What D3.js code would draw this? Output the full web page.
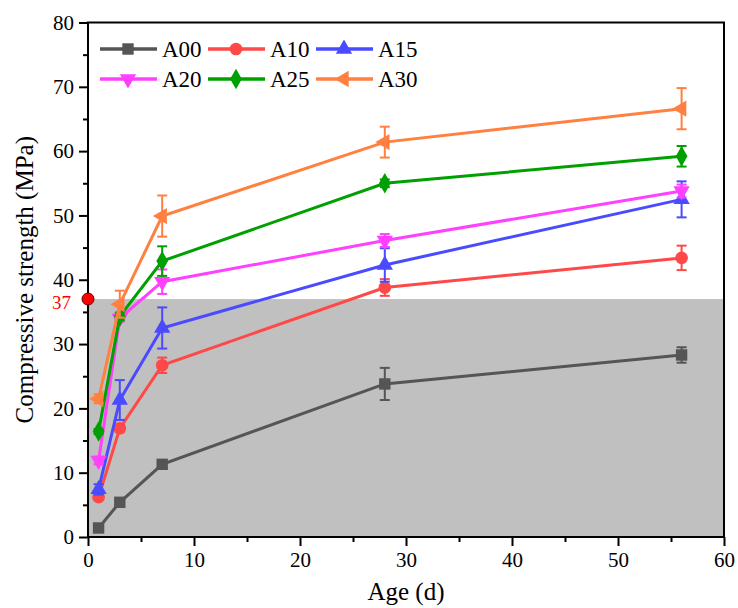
<!DOCTYPE html>
<html>
<head>
<meta charset="utf-8">
<script src="https://cdn.jsdelivr.net/npm/d3@7"></script>
<style>
  body { margin: 0; background: #fff; }
  svg text { font-family: "Liberation Serif", "Times New Roman", Times, serif; }
</style>
</head>
<body>
<svg id="chart" width="738" height="608"></svg>
<script>
// Data
const days = [1, 3, 7, 28, 56];
const names = ["A00", "A10", "A15", "A20", "A25", "A30"];
const A00 = [1.4, 5.4, 11.3, 23.8, 28.3];
const A10 = [6.2, 16.9, 26.7, 38.8, 43.4];
const A15 = [7.4, 21.3, 32.5, 42.3, 52.5];
const A20 = [11.9, 34.0, 39.7, 46.1, 53.8];
const A25 = [16.4, 34.3, 42.9, 55.0, 59.2];
const A30 = [21.5, 36.2, 49.9, 61.4, 66.6];
const A00err = [0.3, 0.4, 0.5, 2.5, 1.2];
const A10err = [0.4, 0.6, 1.2, 1.3, 1.9];
const A15err = [0.8, 3.1, 3.2, 2.6, 2.8];
const A20err = [0.6, 0.5, 1.9, 1.0, 1.0];
const A25err = [0.4, 0.6, 2.3, 0.6, 1.6];
const A30err = [0.7, 2.1, 3.2, 2.4, 3.2];
const threshold = 37;
const xTicks = [0, 10, 20, 30, 40, 50, 60];
const yTicks = [0, 10, 20, 30, 40, 50, 60, 70, 80];

const colors = ["#555555", "#ff4848", "#4a4aff", "#ff40ff", "#00a000", "#ff8040"];
const symbols = [d3.symbolSquare, d3.symbolCircle, d3.symbolTriangle, d3.symbolTriangle, d3.symbolDiamond, d3.symbolTriangle];
const rotations = [0, 0, 0, 180, 0, -90];
const symSize = [130, 125, 115, 115, 120, 115];

const values = [A00, A10, A15, A20, A25, A30];
const errs = [A00err, A10err, A15err, A20err, A25err, A30err];

const serif = "'Liberation Serif', 'Times New Roman', serif";
const svg = d3.select("#chart").attr("font-family", serif);
const mLeft = 88, mRight = 724, mTop = 22.5, mBottom = 537;

const x = d3.scaleLinear().domain([0, 60]).range([mLeft, mRight]);
const y = d3.scaleLinear().domain([0, 80]).range([mBottom, mTop]);

// Shaded area below threshold
svg.append("rect")
    .attr("x", x(0)).attr("y", y(threshold))
    .attr("width", x(60) - x(0)).attr("height", y(0) - y(threshold))
    .attr("fill", "#c0c0c0");

// Axes
const xAxis = svg.append("g").attr("transform", `translate(0,${mBottom})`)
    .call(d3.axisBottom(x).tickValues(xTicks).tickSize(9).tickSizeOuter(0).tickPadding(6));
const xMinor = svg.append("g").attr("transform", `translate(0,${mBottom})`)
    .call(d3.axisBottom(x).tickValues(d3.range(5, 60, 10)).tickSize(5).tickFormat("").tickSizeOuter(0));
const yAxis = svg.append("g").attr("transform", `translate(${mLeft},0)`)
    .call(d3.axisLeft(y).tickValues(yTicks).tickSize(9).tickSizeOuter(0).tickPadding(5));
const yMinor = svg.append("g").attr("transform", `translate(${mLeft},0)`)
    .call(d3.axisLeft(y).tickValues(d3.range(5, 80, 10)).tickSize(5).tickFormat("").tickSizeOuter(0));

[xAxis, xMinor, yAxis, yMinor].forEach(g => {
    g.attr("font-family", serif).attr("font-size", 21);
    g.select(".domain").remove();
    g.selectAll("line").attr("stroke", "#000").attr("stroke-width", 2);
    g.selectAll("text").attr("fill", "#000");
});

// Frame
svg.append("rect")
    .attr("x", mLeft).attr("y", mTop)
    .attr("width", mRight - mLeft).attr("height", mBottom - mTop)
    .attr("fill", "none").attr("stroke", "#000").attr("stroke-width", 2);

// Threshold label and marker
svg.append("text")
    .attr("x", 71).attr("y", y(threshold) + 3).attr("dy", "0.35em")
    .attr("text-anchor", "end").attr("font-size", 19).attr("fill", "#ff0000")
    .text(threshold);
svg.append("circle")
    .attr("cx", x(0)).attr("cy", y(threshold)).attr("r", 6)
    .attr("fill", "#ff0000").attr("stroke", "#600").attr("stroke-width", 1);

// Series
const line = d3.line().x((d, i) => x(days[i])).y(d => y(d));

values.forEach((vals, s) => {
    const g = svg.append("g");
    const c = colors[s];
    // error bars
    vals.forEach((v, i) => {
        const e = errs[s][i];
        const cx = x(days[i]);
        g.append("line").attr("x1", cx).attr("x2", cx)
            .attr("y1", y(v - e)).attr("y2", y(v + e))
            .attr("stroke", c).attr("stroke-width", 2);
        [v - e, v + e].forEach(w => {
            g.append("line").attr("x1", cx - 5).attr("x2", cx + 5)
                .attr("y1", y(w)).attr("y2", y(w))
                .attr("stroke", c).attr("stroke-width", 2);
        });
    });
    g.append("path").attr("d", line(vals))
        .attr("fill", "none").attr("stroke", c).attr("stroke-width", 3);
    g.selectAll("path.m").data(vals).enter().append("path")
        .attr("class", "m")
        .attr("d", d3.symbol().type(symbols[s]).size(symSize[s]))
        .attr("transform", (d, i) => `translate(${x(days[i])},${y(d)}) rotate(${rotations[s]})`)
        .attr("fill", c);
});

// Legend
const legX = [100, 208, 316];
const legY = [49, 79];
names.forEach((n, s) => {
    const col = s % 3, row = Math.floor(s / 3);
    const lx = legX[col], ly = legY[row];
    svg.append("line").attr("x1", lx).attr("x2", lx + 57)
        .attr("y1", ly).attr("y2", ly)
        .attr("stroke", colors[s]).attr("stroke-width", 3.5);
    svg.append("path")
        .attr("d", d3.symbol().type(symbols[s]).size(symSize[s]))
        .attr("transform", `translate(${lx + 28},${ly}) rotate(${rotations[s]})`)
        .attr("fill", colors[s]);
    svg.append("text").attr("x", lx + 62).attr("y", ly).attr("dy", "0.35em")
        .attr("font-size", 23).attr("fill", "#000").text(n);
});

// Axis titles
svg.append("text")
    .attr("x", (mLeft + mRight) / 2).attr("y", 600)
    .attr("text-anchor", "middle").attr("font-size", 25).text("Age (d)");
svg.append("text")
    .attr("transform", `translate(33,${(mTop + mBottom) / 2}) rotate(-90)`)
    .attr("text-anchor", "middle").attr("font-size", 25)
    .text("Compressive strength (MPa)");
</script>
</body>
</html>
